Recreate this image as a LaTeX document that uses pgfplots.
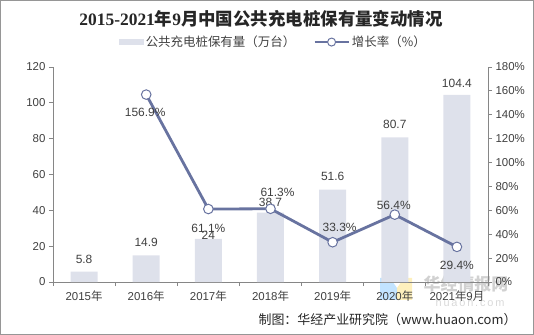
\documentclass[border=0pt]{standalone}
\usepackage{pgfplots}
\pgfplotsset{compat=1.18}
\usepackage{fontspec}
\setmainfont{Liberation Sans}
\newfontfamily\cjk{Noto Sans CJK SC}
\newfontfamily\tserif{Liberation Serif}
\definecolor{barc}{RGB}{222,225,235}
\definecolor{linec}{RGB}{104,115,160}
\definecolor{txt}{RGB}{64,64,64}
\definecolor{axc}{RGB}{134,134,134}
\definecolor{frm}{RGB}{150,150,150}
\begin{document}
\begin{tikzpicture}
\useasboundingbox (0bp,0bp) rectangle (534bp,335bp);
\draw[frm, line width=1bp] (0.5bp,0.5bp) rectangle (533.5bp,334.5bp);
% watermark logo (faint)
\fill[blue!45!cyan!40, opacity=0.6] (380bp,57bp) -- (390bp,57bp) -- (397bp,47bp) -- (397bp,35bp) -- (380bp,35bp) -- cycle;
\fill[yellow!60!orange!35, opacity=0.7] (397bp,47bp) -- (404bp,57bp) -- (412bp,57bp) -- (412bp,35bp) -- (397bp,35bp) -- cycle;
\node[text=black!18, font=\cjk\bfseries\fontsize{17}{19}\selectfont] at (466bp,51bp) {华经情报网};
\node[text=black!15, font=\fontsize{11}{12}\selectfont] at (470bp,32bp) {h\,u\,a\,o\,n\,.\,c\,o\,m};
\begin{axis}[
  at={(53bp,53bp)}, anchor=south west,
  scale only axis, width=435bp, height=215bp,
  xmin=-0.5, xmax=6.5, ymin=0, ymax=120,
  ytick={0,20,...,120},
  xtick={0,...,6},
  xticklabels={2015{\cjk 年},2016{\cjk 年},2017{\cjk 年},2018{\cjk 年},2019{\cjk 年},2020{\cjk 年},2021{\cjk 年}9{\cjk 月}},
  minor xtick={-0.5,0.5,...,6.5},
  axis x line*=bottom, axis y line*=left,
  x axis line style={-}, y axis line style={-},
  axis line style={axc, line width=0.8bp},
  every tick/.style={axc, line width=0.8bp},
  major x tick style={draw=none},
  tick align=outside,
  major tick length=4bp, minor tick length=4bp,
  /pgf/number format/assume math mode=true,
  yticklabel style={font=\fontsize{11.5}{13}\selectfont, text=txt},
  xticklabel style={font=\fontsize{11.5}{13}\selectfont, text=txt, yshift=-1bp},
  clip=false,
]
\addplot[ybar, fill=barc, draw=none, bar width=27bp,
  visualization depends on={\thisrow{s} \as \ls},
  nodes near coords={\pgfmathprintnumber[assume math mode=true]{\pgfplotspointmeta}},
  nodes near coords style={font=\fontsize{12}{14}\selectfont, text=txt, anchor=center, inner sep=0pt, yshift=\ls*1bp}]
  table[x=x, y=y] {
x y s
0 5.8 12.5
1 14.9 12.5
2 24 4
3 38.7 10
4 51.6 13
5 80.7 13
6 104.4 12
};
\end{axis}
\begin{axis}[
  at={(53bp,53bp)}, anchor=south west,
  scale only axis, width=435bp, height=215bp,
  xmin=-0.5, xmax=6.5, ymin=0, ymax=180,
  ytick={0,20,...,180},
  yticklabel={\pgfmathprintnumber[assume math mode=true]{\tick}\%},
  axis y line*=right, axis x line=none,
  y axis line style={-},
  axis line style={axc, line width=0.8bp},
  every tick/.style={axc, line width=0.8bp},
  tick align=outside, major tick length=4bp,
  yticklabel style={font=\fontsize{11.5}{13}\selectfont, text=txt},
  clip=false,
  legend columns=2,
  legend style={at={(0.507,1.116)}, anchor=center, draw=none, fill=none,
    font=\cjk\fontsize{12.5}{14}\selectfont, text=txt,
    /tikz/every even column/.append style={column sep=16bp}},
]
\addlegendimage{legend image code/.code={\fill[barc] (0bp,-2.5bp) rectangle (24bp,2.5bp);}}
\addlegendentry{公共充电桩保有量（万台）}
\addplot[linec, line width=2.8bp, mark=*, mark size=4.8bp,
  mark options={fill=white, draw=linec, line width=1bp},
  legend image code/.code={\draw[linec,line width=2.8bp] (0bp,0bp)--(34bp,0bp); \draw[linec, line width=1bp, fill=white] (17bp,0bp) circle (4bp);}]
  coordinates {(1,156.9) (2,61.1) (3,61.3) (4,33.3) (5,56.4) (6,29.4)};
\addlegendentry{增长率（\%）}
\addplot[draw=none, mark=none, forget plot,
  visualization depends on={\thisrow{dy} \as \ldy},
  visualization depends on={\thisrow{dx} \as \ldx},
  nodes near coords={\pgfmathprintnumber[assume math mode=true,fixed,precision=1,fixed zerofill]{\pgfplotspointmeta}\%},
  nodes near coords style={font=\fontsize{12}{14}\selectfont, text=txt, anchor=center, inner sep=0pt, yshift=\ldy*1bp, xshift=\ldx*1bp}]
  table[x=x, y=y] {
x y dx dy
1 156.9 -1 -18
2 61.1 0 -19
3 61.3 7 16
4 33.3 7 15
5 56.4 -1 9
6 29.4 0 -19
};
\end{axis}
\node[text=black!85, font=\fontsize{17.5}{20}\selectfont] at (261bp,316bp) {{\tserif\bfseries 2015-2021}{\cjk\bfseries 年}{\tserif\bfseries 9}{\cjk\bfseries 月中国公共充电桩保有量变动情况}};
\node[anchor=east, text=black!85, font=\cjk\fontsize{13}{15}\selectfont] at (520bp,15bp) {制图：华经产业研究院（www.huaon.com）};
\end{tikzpicture}
\end{document}
